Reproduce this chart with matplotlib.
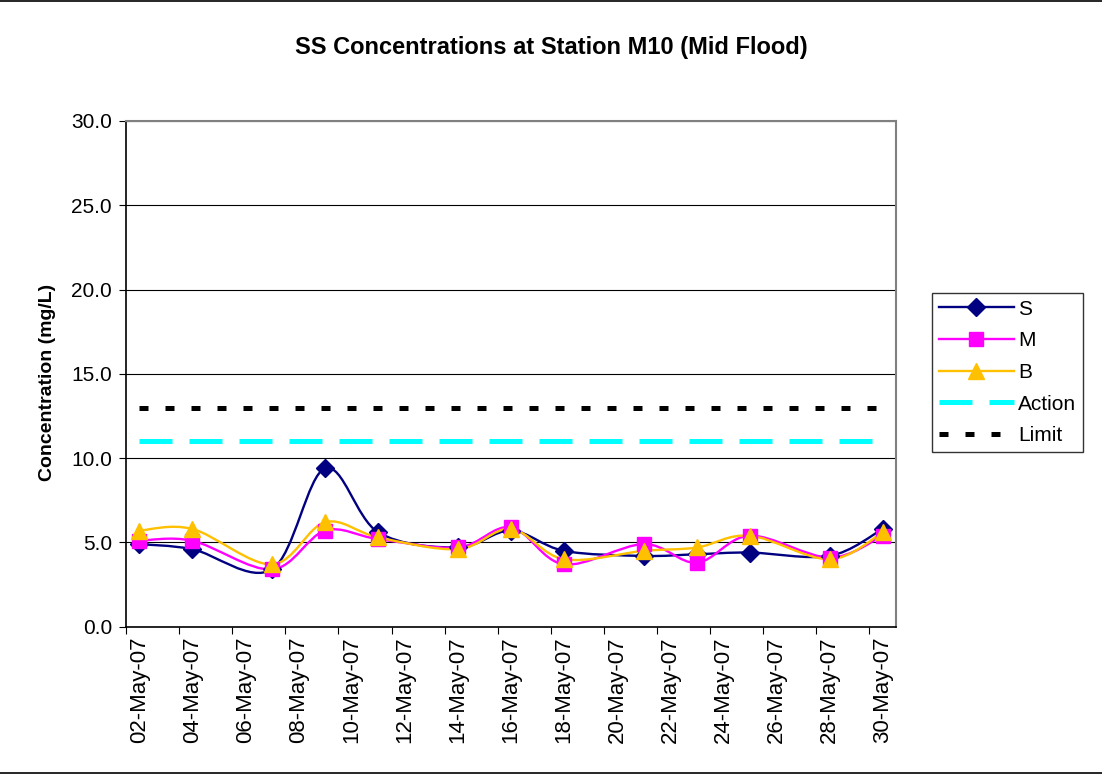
import numpy as np
import matplotlib
matplotlib.use("Agg")
import matplotlib.pyplot as plt
import matplotlib.dates as mdates
from matplotlib.path import Path
from matplotlib.patches import PathPatch
from matplotlib.lines import Line2D
from datetime import datetime

plt.rcParams['font.family'] = ['Liberation Sans', 'DejaVu Sans']

# Sampling days (May 2007)
days = [2, 4, 7, 9, 11, 14, 16, 18, 21, 23, 25, 28, 30]
ss_S = [4.9, 4.6, 3.4, 9.4, 5.6, 4.7, 5.7, 4.5, 4.2, 4.3, 4.4, 4.2, 5.8]
ss_M = [5.1, 5.1, 3.4, 5.7, 5.2, 4.7, 5.9, 3.7, 4.9, 3.8, 5.4, 4.1, 5.4]
ss_B = [5.7, 5.8, 3.7, 6.2, 5.3, 4.6, 5.8, 4.0, 4.5, 4.7, 5.4, 4.0, 5.6]
action_level = 11.0
limit_level = 13.0
tick_days = list(range(2, 31, 2))


def smooth_path(x, y):
    # cubic bezier through points (Excel-like smoothed line)
    n = len(x)
    verts = [(x[0], y[0])]
    codes = [Path.MOVETO]
    for i in range(n - 1):
        a = i - 1 if i > 0 else i
        d = i + 2 if i + 2 < n else i + 1
        c1 = (x[i] + (x[i + 1] - x[a]) / 6, y[i] + (y[i + 1] - y[a]) / 6)
        c2 = (x[i + 1] - (x[d] - x[i]) / 6, y[i + 1] - (y[d] - y[i]) / 6)
        verts += [c1, c2, (x[i + 1], y[i + 1])]
        codes += [Path.CURVE4] * 3
    return Path(verts, codes)


# dates plotted at day centre (Excel date axis)
x = np.array([mdates.date2num(datetime(2007, 5, d)) + 0.5 for d in days])

fig = plt.figure(figsize=(11.02, 7.77), dpi=100)
ax = fig.add_axes([0.1143, 0.1934, 0.6988, 0.6509])

series = [
    ("S", ss_S, "#000080", "D", 9),
    ("M", ss_M, "#FF00FF", "s", 10),
    ("B", ss_B, "#FFC000", "^", 11),
]
handles = []
for name, vals, col, mk, ms in series:
    patch = PathPatch(smooth_path(x, np.array(vals)), facecolor='none',
                      edgecolor=col, lw=1.7, zorder=3)
    ax.add_patch(patch)
    ax.plot(x, vals, linestyle='none', marker=mk, markersize=ms,
            color=col, markeredgecolor=col, zorder=4)
    handles.append(Line2D([], [], color=col, lw=1.7, marker=mk, markersize=ms))

ax.plot(x, [action_level] * len(x), color='#00FFFF', lw=3.6,
        dashes=(6.6, 3.4), dash_capstyle='butt', zorder=2)
ax.plot(x, [limit_level] * len(x), color='black', lw=3.6,
        dashes=(1.8, 3.4), dash_capstyle='butt', zorder=2)
handles.append(Line2D([], [], color='#00FFFF', lw=3.6, dashes=(6.6, 3.4),
                      dash_capstyle='butt'))
handles.append(Line2D([], [], color='black', lw=3.6, dashes=(1.8, 3.4),
                      dash_capstyle='butt'))

ax.set_ylim(0, 30)
ax.set_yticks(np.arange(0, 31, 5))
ax.yaxis.set_major_formatter(matplotlib.ticker.FormatStrFormatter('%.1f'))
ax.grid(axis='y', color='black', lw=0.8, zorder=1)

start = mdates.date2num(datetime(2007, 5, 2))
ax.set_xlim(start, start + 29)
major = [mdates.date2num(datetime(2007, 5, d)) for d in tick_days]
ax.set_xticks(major)
ax.set_xticklabels([])
ax.set_xticks([m + 0.5 for m in major], minor=True)
ax.set_xticklabels([datetime(2007, 5, d).strftime('%d-%b-%y') for d in tick_days],
                   minor=True, rotation=90)
ax.tick_params(axis='x', which='minor', length=0, pad=7, labelsize=16)
ax.tick_params(axis='x', which='major', length=5, direction='out', color='black')
ax.tick_params(axis='y', length=5, direction='out', labelsize=15, pad=5)

for s in ['top', 'right']:
    ax.spines[s].set_color('#808080')
    ax.spines[s].set_linewidth(1.5)
for s in ['left', 'bottom']:
    ax.spines[s].set_color('black')
    ax.spines[s].set_linewidth(1.2)

ax.set_ylabel("Concentration (mg/L)", fontsize=14, fontweight='bold')
ax.yaxis.set_label_coords(-0.091, 0.483)
fig.text(0.5, 0.9395, "SS Concentrations at Station M10 (Mid Flood)",
         ha='center', va='center', fontsize=17, fontweight='bold')

leg = fig.legend(handles, ["S", "M", "B", "Action", "Limit"],
                 loc='center left', bbox_to_anchor=(0.8457, 0.5206),
                 frameon=True, fancybox=False, edgecolor='black',
                 fontsize=15, handlelength=3.6, handletextpad=0.2,
                 borderpad=0.33, labelspacing=0.61, borderaxespad=0)
leg.get_frame().set_linewidth(1.0)

fig.add_artist(Line2D([0, 1], [0.9985, 0.9985], transform=fig.transFigure,
                      color='black', lw=1.2))
fig.add_artist(Line2D([0, 1], [0.005, 0.005], transform=fig.transFigure,
                      color='black', lw=1.2))

fig.savefig("out.png", dpi=100)
